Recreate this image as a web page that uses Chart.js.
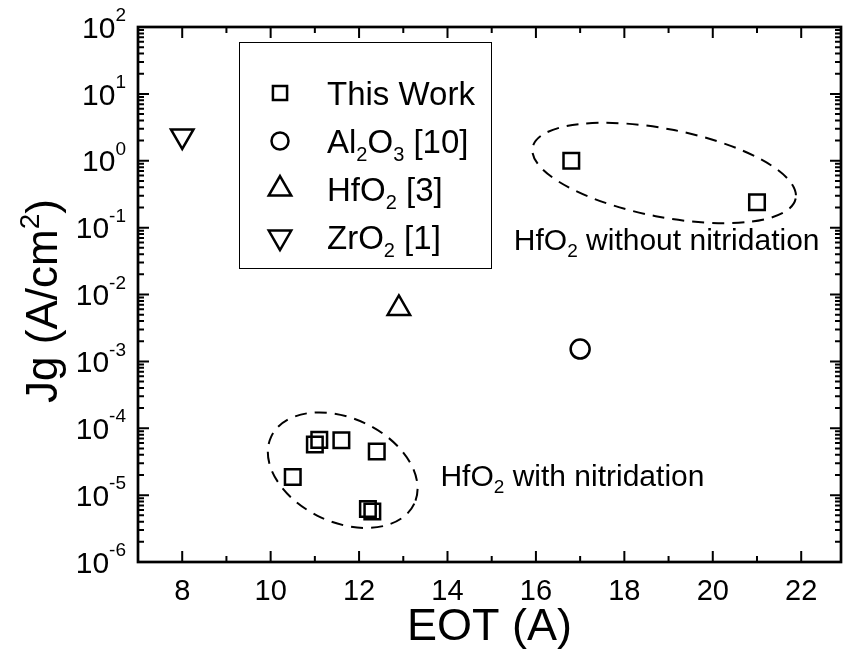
<!DOCTYPE html>
<html><head><meta charset="utf-8">
<script src="https://cdn.jsdelivr.net/npm/chart.js@4"></script>
<style>html,body{margin:0;padding:0;background:#fff}#wrap{width:843px;height:656px}</style>
</head><body><div id="wrap"><canvas id="c" width="843" height="656"></canvas></div>
<script>
const FONT = '"Liberation Sans", Arial, Helvetica, sans-serif';

// ---- Data ----
const thisWorkEOT = [16.8, 21.0, 10.5, 11.0, 11.1, 11.6, 12.4, 12.2, 12.3];
const thisWorkJg  = [1.0, 0.24, 1.87e-5, 5.7e-5, 6.7e-5, 6.6e-5, 4.5e-5, 6.2e-6, 5.7e-6];
const al2o3EOT = [17.0];
const al2o3Jg  = [1.53e-3];
const hfo2EOT  = [12.9];
const hfo2Jg   = [6.2e-3];
const zro2EOT  = [8.0];
const zro2Jg   = [2.35];

const xTickValues = [8, 10, 12, 14, 16, 18, 20, 22];
const yTickExponents = [-6, -5, -4, -3, -2, -1, 0, 1, 2];

// legend labels as rich text segments (sub = subscript)
const legendLabels = [
  [{t:'This Work'}],
  [{t:'Al'},{t:'2',sub:true},{t:'O'},{t:'3',sub:true},{t:' [10]'}],
  [{t:'HfO'},{t:'2',sub:true},{t:' [3]'}],
  [{t:'ZrO'},{t:'2',sub:true},{t:' [1]'}]
];
const noteWithout = [{t:'HfO'},{t:'2',sub:true},{t:' without nitridation'}];
const noteWith    = [{t:'HfO'},{t:'2',sub:true},{t:' with nitridation'}];

const pts = (xs, ys) => xs.map((x, i) => ({x: x, y: ys[i]}));

const styleBase = {showLine:false, borderColor:'#000', backgroundColor:'rgba(0,0,0,0)', borderWidth:2.5};
const datasets = [
  Object.assign({label:'This Work', data: pts(thisWorkEOT, thisWorkJg), pointStyle:'rect', pointRadius:11, legendRadius:10}, styleBase),
  Object.assign({label:'Al2O3 [10]', data: pts(al2o3EOT, al2o3Jg), pointStyle:'circle', pointRadius:9.5, legendRadius:8.5}, styleBase),
  Object.assign({label:'HfO2 [3]', data: pts(hfo2EOT, hfo2Jg), pointStyle:'triangle', pointRadius:13, legendRadius:13}, styleBase),
  Object.assign({label:'ZrO2 [1]', data: pts(zro2EOT, zro2Jg), pointStyle:'triangle', rotation:180, pointRadius:13, legendRadius:13}, styleBase)
];

function richWidth(ctx, segs, size, subSize) {
  let w = 0;
  segs.forEach(s => { ctx.font = (s.sub || s.sup ? subSize : size) + 'px ' + FONT; w += ctx.measureText(s.t).width; });
  return w;
}
function drawRich(ctx, segs, x, y, size, subSize, shift) {
  let cx = x;
  segs.forEach(s => {
    ctx.font = (s.sub || s.sup ? subSize : size) + 'px ' + FONT;
    const dy = s.sub ? shift : (s.sup ? -shift : 0);
    ctx.fillText(s.t, cx, y + dy);
    cx += ctx.measureText(s.t).width;
  });
  return cx;
}

function ellipse(ctx, cx, cy, a, b, rotDeg) {
  ctx.save();
  ctx.beginPath();
  ctx.ellipse(cx, cy, a, b, rotDeg * Math.PI / 180, 0, Math.PI * 2);
  ctx.setLineDash([12, 8]);
  ctx.lineWidth = 2;
  ctx.strokeStyle = '#000';
  ctx.stroke();
  ctx.restore();
}

const framePlugin = {
  id: 'frame',
  beforeDatasetsDraw(chart) {
    const ctx = chart.ctx, a = chart.chartArea;
    const xs = chart.scales.x, ys = chart.scales.y;
    ctx.save();
    ctx.strokeStyle = '#000';
    ctx.lineCap = 'butt';
    ctx.lineWidth = 2;
    ctx.beginPath();
    for (let v = 7; v <= 22; v++) {
      const px = xs.getPixelForValue(v);
      const len = (v % 2 === 0) ? 11 : 6;
      ctx.moveTo(px, a.bottom); ctx.lineTo(px, a.bottom - len);
      ctx.moveTo(px, a.top); ctx.lineTo(px, a.top + len);
    }
    for (let e = -6; e <= 2; e++) {
      const py = ys.getPixelForValue(Math.pow(10, e));
      ctx.moveTo(a.left, py); ctx.lineTo(a.left + 11, py);
      ctx.moveTo(a.right, py); ctx.lineTo(a.right - 11, py);
      if (e < 2) {
        for (let m = 2; m <= 9; m++) {
          const pm = ys.getPixelForValue(m * Math.pow(10, e));
          ctx.moveTo(a.left, pm); ctx.lineTo(a.left + 6, pm);
          ctx.moveTo(a.right, pm); ctx.lineTo(a.right - 6, pm);
        }
      }
    }
    ctx.stroke();
    ctx.lineWidth = 2.7;
    ctx.strokeRect(a.left, a.top, a.right - a.left, a.bottom - a.top);

    ellipse(ctx, xs.getPixelForValue(18.9), ys.getPixelForValue(0.656), 134, 44, 11);
    ellipse(ctx, xs.getPixelForValue(11.63), ys.getPixelForValue(2.36e-5), 79, 52, 25);
    ctx.restore();
  },
  afterDraw(chart) {
    const ctx = chart.ctx, a = chart.chartArea;
    const xs = chart.scales.x, ys = chart.scales.y;
    ctx.save();
    ctx.fillStyle = '#000';
    ctx.textBaseline = 'alphabetic';
    ctx.textAlign = 'left';

    yTickExponents.forEach(e => {
      const py = ys.getPixelForValue(Math.pow(10, e));
      const sup = String(e);
      ctx.font = '19px ' + FONT;
      const sw = ctx.measureText(sup).width;
      ctx.font = '30px ' + FONT;
      const bw = ctx.measureText('10').width;
      const right = a.left - 12;
      const base = py + 10.7;
      ctx.fillText('10', right - sw - bw, base);
      ctx.font = '19px ' + FONT;
      ctx.fillText(sup, right - sw, base - 16.5);
    });

    ctx.font = '45px ' + FONT;
    ctx.textAlign = 'center';
    ctx.fillText('EOT (A)', (a.left + a.right) / 2, 640);
    ctx.textAlign = 'left';

    ctx.save();
    ctx.translate(57, 301);
    ctx.rotate(-Math.PI / 2);
    const titleSegs = [{t:'Jg (A/cm'},{t:'2',sup:true},{t:')'}];
    const tw = richWidth(ctx, titleSegs, 44, 28);
    drawRich(ctx, titleSegs, -tw / 2, 0, 44, 28, 18);
    ctx.restore();

    ctx.lineWidth = 1;
    ctx.strokeStyle = '#000';
    ctx.strokeRect(239.5, 42.5, 252, 226);
    chart.data.datasets.forEach((ds, i) => {
      const cy = 93 + i * 48;
      ctx.save();
      ctx.strokeStyle = '#000';
      ctx.fillStyle = 'rgba(0,0,0,0)';
      ctx.lineWidth = 2.5;
      Chart.helpers.drawPoint(ctx, {pointStyle: ds.pointStyle, rotation: ds.rotation || 0, radius: ds.legendRadius, borderWidth: 2.5}, 280, cy);
      ctx.restore();
      drawRich(ctx, legendLabels[i], 327, cy + 11.5, 33, 20, 8);
    });

    drawRich(ctx, noteWithout, xs.getPixelForValue(15.5), ys.getPixelForValue(0.0467), 30, 19, 7);
    drawRich(ctx, noteWith, xs.getPixelForValue(13.84), ys.getPixelForValue(1.35e-5), 30, 19, 7);
    ctx.restore();
  }
};

new Chart(document.getElementById('c').getContext('2d'), {
  type: 'scatter',
  data: { datasets: datasets },
  options: {
    responsive: false,
    animation: false,
    layout: { autoPadding: false, padding: { top: 27, left: 0, right: 2, bottom: 0 } },
    plugins: { legend: { display: false }, tooltip: { enabled: false } },
    scales: {
      x: {
        type: 'linear', min: 7, max: 22.9,
        afterFit(s) { s.height = 94; },
        grid: { display: false, drawTicks: false },
        border: { display: false },
        ticks: {
          stepSize: 1, includeBounds: false, autoSkip: false, maxRotation: 0, padding: 13, color: '#000',
          font: { family: FONT, size: 29 },
          callback: v => xTickValues.includes(v) ? String(v) : ''
        }
      },
      y: {
        type: 'logarithmic', min: 1e-6, max: 1e2,
        afterFit(s) { s.width = 138; },
        grid: { display: false, drawTicks: false },
        border: { display: false },
        ticks: { display: false }
      }
    }
  },
  plugins: [framePlugin]
});
</script>
</body></html>
